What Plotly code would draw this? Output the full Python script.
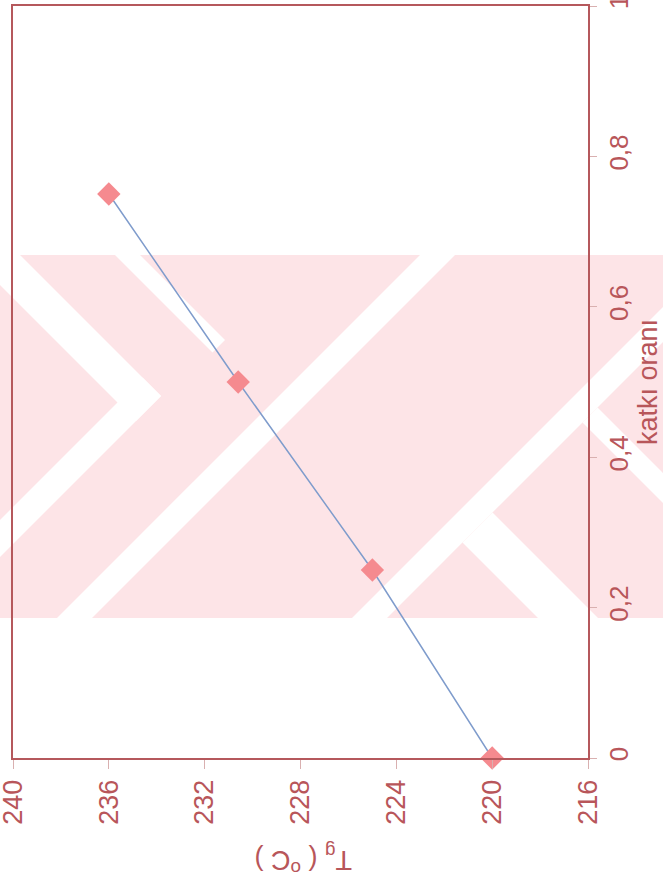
import plotly.graph_objects as go

# Glass transition temperature vs. additive ratio
katki_orani = [0.0, 0.25, 0.5, 0.75]
tg_values = [220.0, 225.0, 230.6, 236.0]

tg_ticks = [240, 236, 232, 228, 224, 220, 216]
ratio_ticks = [0, 0.2, 0.4, 0.6, 0.8, 1]

AXIS_RED = "#b5585c"
LABEL_RED = "#b8565a"
W, H = 663, 888
L, R, T, B = 13, 588, 6, 758


def to_paper(x, y):
    # pixel position -> paper coordinates
    return (x - L) / (R - L), (B - y) / (B - T)


def clip(poly, a, b, c):
    # keep the part of poly where a*x + b*y <= c
    out = []
    n = len(poly)
    for i in range(n):
        p, q = poly[i], poly[(i + 1) % n]
        fp = a * p[0] + b * p[1] - c
        fq = a * q[0] + b * q[1] - c
        if fp <= 0:
            out.append(p)
        if fp * fq < 0:
            t = fp / (fp - fq)
            out.append((p[0] + t * (q[0] - p[0]), p[1] + t * (q[1] - p[1])))
    return out


def region(*planes, box=(0, 255, 663, 618)):
    x0, y0, x1, y1 = box
    poly = [(x0, y0), (x1, y0), (x1, y1), (x0, y1)]
    for a, b, c in planes:
        poly = clip(poly, a, b, c)
        if not poly:
            break
    return poly


def shape(poly, color):
    pts = [to_paper(x, y) for x, y in poly]
    d = "M " + " L ".join(f"{a:.4f},{b:.4f}" for a, b in pts) + " Z"
    return dict(type="path", path=d, xref="paper", yref="paper",
                fillcolor=color, line=dict(width=0), layer="below")


# diagonal band helpers: u = x + y, v = x - y
def u_between(lo, hi):
    return [(-1, -1, -lo), (1, 1, hi)]


def v_between(lo, hi):
    return [(-1, 1, -lo), (1, -1, hi)]


PINK = "#fde4e7"
WHITE = "#ffffff"
white_parts = [
    region(*v_between(-285, -235), (1, 1, 557)),
    region(*u_between(520, 557), (1, -1, -235)),
    region(*v_between(-140, -115), (1, 1, 565)),
    region(*u_between(675, 710)),
    region(*u_between(970, 1005)),
    region(*v_between(160, 190), (-1, -1, -1005)),
    region(*v_between(-80, -20), (-1, -1, -1005)),
]
watermark = [shape(region(), PINK)] + [shape(p, WHITE) for p in white_parts if p]

fig = go.Figure()
fig.add_trace(go.Scatter(
    x=tg_values, y=katki_orani, mode="lines+markers",
    line=dict(color="#7f9ccc", width=1.5),
    marker=dict(symbol="diamond", size=18, color="#f58a8f", line=dict(width=0)),
    showlegend=False, cliponaxis=False,
))

fig.update_layout(
    width=W, height=H,
    margin=dict(l=L, r=W - R, t=T, b=H - B),
    paper_bgcolor="white", plot_bgcolor="rgba(0,0,0,0)",
    separators=", ",
    font=dict(family="Liberation Sans, Arial, sans-serif", color=LABEL_RED, size=26),
    shapes=watermark,
    xaxis=dict(
        range=[240, 216], tickvals=tg_ticks, ticktext=[str(v) for v in tg_ticks],
        tickangle=-90, showgrid=False, zeroline=False, automargin=False,
        showline=True, linecolor=AXIS_RED, linewidth=2, mirror=True,
        ticks="outside", ticklen=9, tickcolor="#d9b0b0", tickwidth=1,
        tickfont=dict(size=27, color=LABEL_RED), ticklabeloverflow="allow",
    ),
    yaxis=dict(
        range=[0, 1], tickvals=ratio_ticks, side="right",
        tickangle=-90, showgrid=False, zeroline=False, automargin=False,
        showline=True, linecolor=AXIS_RED, linewidth=2, mirror=True,
        ticks="outside", ticklen=7, tickcolor="#d9b0b0", tickwidth=1,
        tickfont=dict(size=26, color=LABEL_RED), ticklabeloverflow="allow",
        title=dict(text="katkı oranı", font=dict(size=27, color=LABEL_RED), standoff=4),
    ),
    annotations=[dict(
        text="T<sub>g</sub> ( <sup>o</sup>C )", textangle=180,
        x=to_paper(303, 0)[0], y=to_paper(0, 860)[1], xref="paper", yref="paper",
        xanchor="center", yanchor="middle",
        showarrow=False, font=dict(size=27, color=LABEL_RED),
    )],
)

fig.write_html("out.html")
